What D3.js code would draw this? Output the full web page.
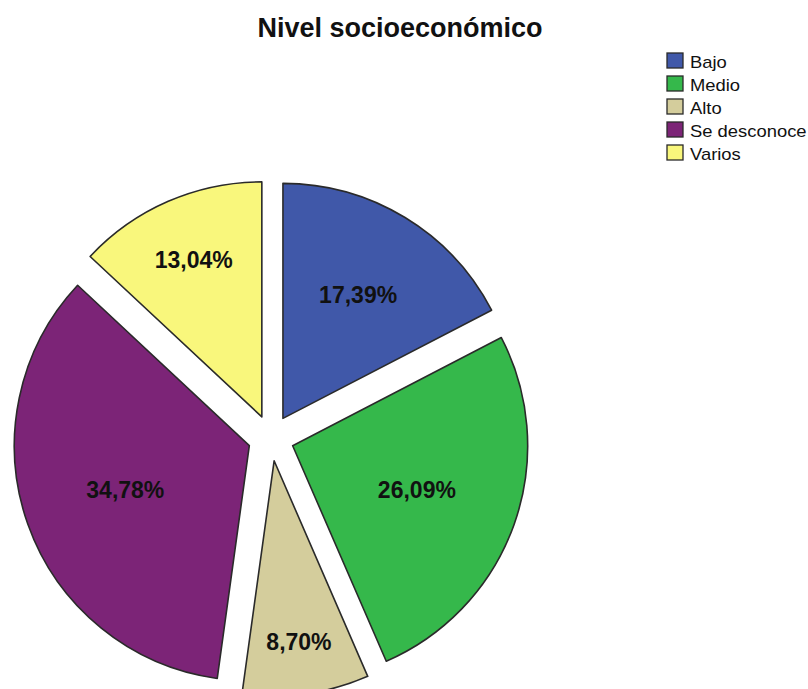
<!DOCTYPE html>
<html>
<head>
<meta charset="utf-8">
<script src="https://cdn.jsdelivr.net/npm/d3@7"></script>
<style>
  html, body { margin: 0; padding: 0; background: #fff; }
  svg { display: block; }
</style>
</head>
<body>
<script>
// Distribution by socioeconomic level (percent of cases)
const categories = ["Bajo", "Medio", "Alto", "Se desconoce", "Varios"];
const values = [17.39, 26.09, 8.70, 34.78, 13.04];
const colors = ["#4058a9", "#35b84b", "#d4cd9c", "#7c2477", "#f9f77c"];
const title = "Nivel socioeconómico";

const W = 808, H = 689;
const cx = 271, cy = 438, R = 235, explode = 23;
const FONT = "Arial, 'Liberation Sans', sans-serif";

const svg = d3.select("body").append("svg")
  .attr("width", W).attr("height", H);

svg.append("text")
  .attr("x", 400).attr("y", 37)
  .attr("text-anchor", "middle")
  .style("font-family", FONT)
  .style("font-weight", "bold")
  .style("font-size", "27px")
  .attr("fill", "#111")
  .text(title);

const data = categories.map((c, i) => ({ cat: c, value: values[i], color: colors[i] }));

const pie = d3.pie().value(d => d.value).sort(null);
const arc = d3.arc().innerRadius(0).outerRadius(R);

// Labels sit further out in narrow slices so they stay inside the wedge
function labelRadius(d) {
  const deg = (d.endAngle - d.startAngle) * 180 / Math.PI;
  return R * (0.56 + 0.225 / (1 + Math.exp((deg - 54.7) / 7.1)));
}

const g = svg.append("g").attr("transform", `translate(${cx},${cy})`);

const slices = g.selectAll("g.slice").data(pie(data)).enter().append("g")
  .attr("class", "slice")
  .attr("transform", d => {
    const a = (d.startAngle + d.endAngle) / 2;
    return `translate(${explode * Math.sin(a)},${-explode * Math.cos(a)})`;
  });

slices.append("path")
  .attr("d", arc)
  .attr("fill", d => d.data.color)
  .attr("stroke", "#2a2a2a")
  .attr("stroke-width", 1.6)
  .attr("stroke-linejoin", "round");

const fmt = v => v.toFixed(2).replace(".", ",") + "%";

slices.append("text")
  .attr("transform", d => {
    const a = (d.startAngle + d.endAngle) / 2, r = labelRadius(d);
    return `translate(${r * Math.sin(a)},${-r * Math.cos(a)})`;
  })
  .attr("text-anchor", "middle")
  .attr("dy", "0.35em")
  .style("font-family", FONT)
  .style("font-weight", "bold")
  .style("font-size", "23px")
  .attr("fill", "#111")
  .text(d => fmt(d.data.value));

// Legend
const legend = svg.append("g").attr("transform", "translate(667,53)");
const rows = legend.selectAll("g").data(data).enter().append("g")
  .attr("transform", (d, i) => `translate(0,${i * 23})`);
rows.append("rect")
  .attr("width", 16).attr("height", 15)
  .attr("fill", d => d.color)
  .attr("stroke", "#2a2a2a").attr("stroke-width", 1.3);
rows.append("text")
  .attr("transform", "translate(23,15) scale(1.15,1)")
  .style("font-family", FONT)
  .style("font-size", "16px")
  .attr("fill", "#111")
  .text(d => d.cat);
</script>
</body>
</html>
